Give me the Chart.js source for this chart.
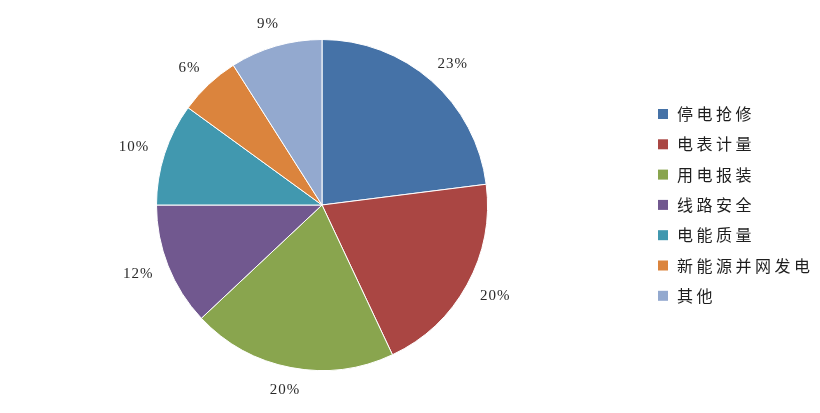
<!DOCTYPE html>
<html>
<head>
<meta charset="utf-8">
<script src="https://cdn.jsdelivr.net/npm/chart.js@4.4.1/dist/chart.umd.min.js"></script>
<style>
    html, body { margin: 0; padding: 0; background: #fff; }
    #wrap { width: 820px; height: 413px; position: relative; }
</style>
</head>
<body>
<div id="wrap"><canvas id="pieChart"></canvas></div>
<script>
const categories = ['停电抢修', '电表计量', '用电报装', '线路安全', '电能质量', '新能源并网发电', '其他'];
const shares = [23, 20, 20, 12, 10, 6, 9];
const colors = ['#4572A7', '#AA4643', '#89A54E', '#71588F', '#4198AF', '#DB843D', '#93A9CF'];

// 百分比标签
const outsideLabels = {
    id: 'outsideLabels',
    afterDatasetsDraw(chart) {
        const { ctx } = chart;
        const meta = chart.getDatasetMeta(0);
        ctx.save();
        ctx.font = '15px "Liberation Serif", "DejaVu Serif", serif';
        ctx.letterSpacing = '1px';
        ctx.fillStyle = '#2a2a2a';
        ctx.textAlign = 'center';
        ctx.textBaseline = 'middle';
        meta.data.forEach((arc, i) => {
            const mid = (arc.startAngle + arc.endAngle) / 2;
            const dx = Math.cos(mid), dy = Math.sin(mid);
            const text = shares[i] + '%';
            const w = ctx.measureText(text).width;
            const r = arc.outerRadius + 17;
            const x = arc.x + dx * r + dx * w / 2;
            const y = arc.y + dy * r + dy * 6;
            ctx.fillText(text, x, y);
        });
        ctx.restore();
    }
};

// 图例
const sideLegend = {
    id: 'sideLegend',
    afterDraw(chart) {
        const { ctx } = chart;
        ctx.save();
        ctx.font = '16px "Noto Sans CJK SC", sans-serif';
        ctx.letterSpacing = '3.5px';
        ctx.textBaseline = 'middle';
        ctx.textAlign = 'left';
        categories.forEach((name, i) => {
            const y = 114 + i * 30.3;
            ctx.fillStyle = colors[i];
            ctx.fillRect(658, y - 5, 10, 10);
            ctx.fillStyle = '#1e1e1e';
            ctx.fillText(name, 677, y);
        });
        ctx.restore();
    }
};

new Chart(document.getElementById('pieChart'), {
    type: 'pie',
    data: {
        labels: categories,
        datasets: [{
            data: shares,
            backgroundColor: colors,
            borderColor: '#ffffff',
            borderWidth: 1,
            hoverOffset: 0
        }]
    },
    options: {
        responsive: true,
        maintainAspectRatio: false,
        animation: false,
        layout: { padding: { left: 156, right: 332, top: 39, bottom: 42 } },
        plugins: {
            legend: { display: false },
            tooltip: { enabled: false }
        }
    },
    plugins: [outsideLabels, sideLegend]
});
</script>
</body>
</html>
